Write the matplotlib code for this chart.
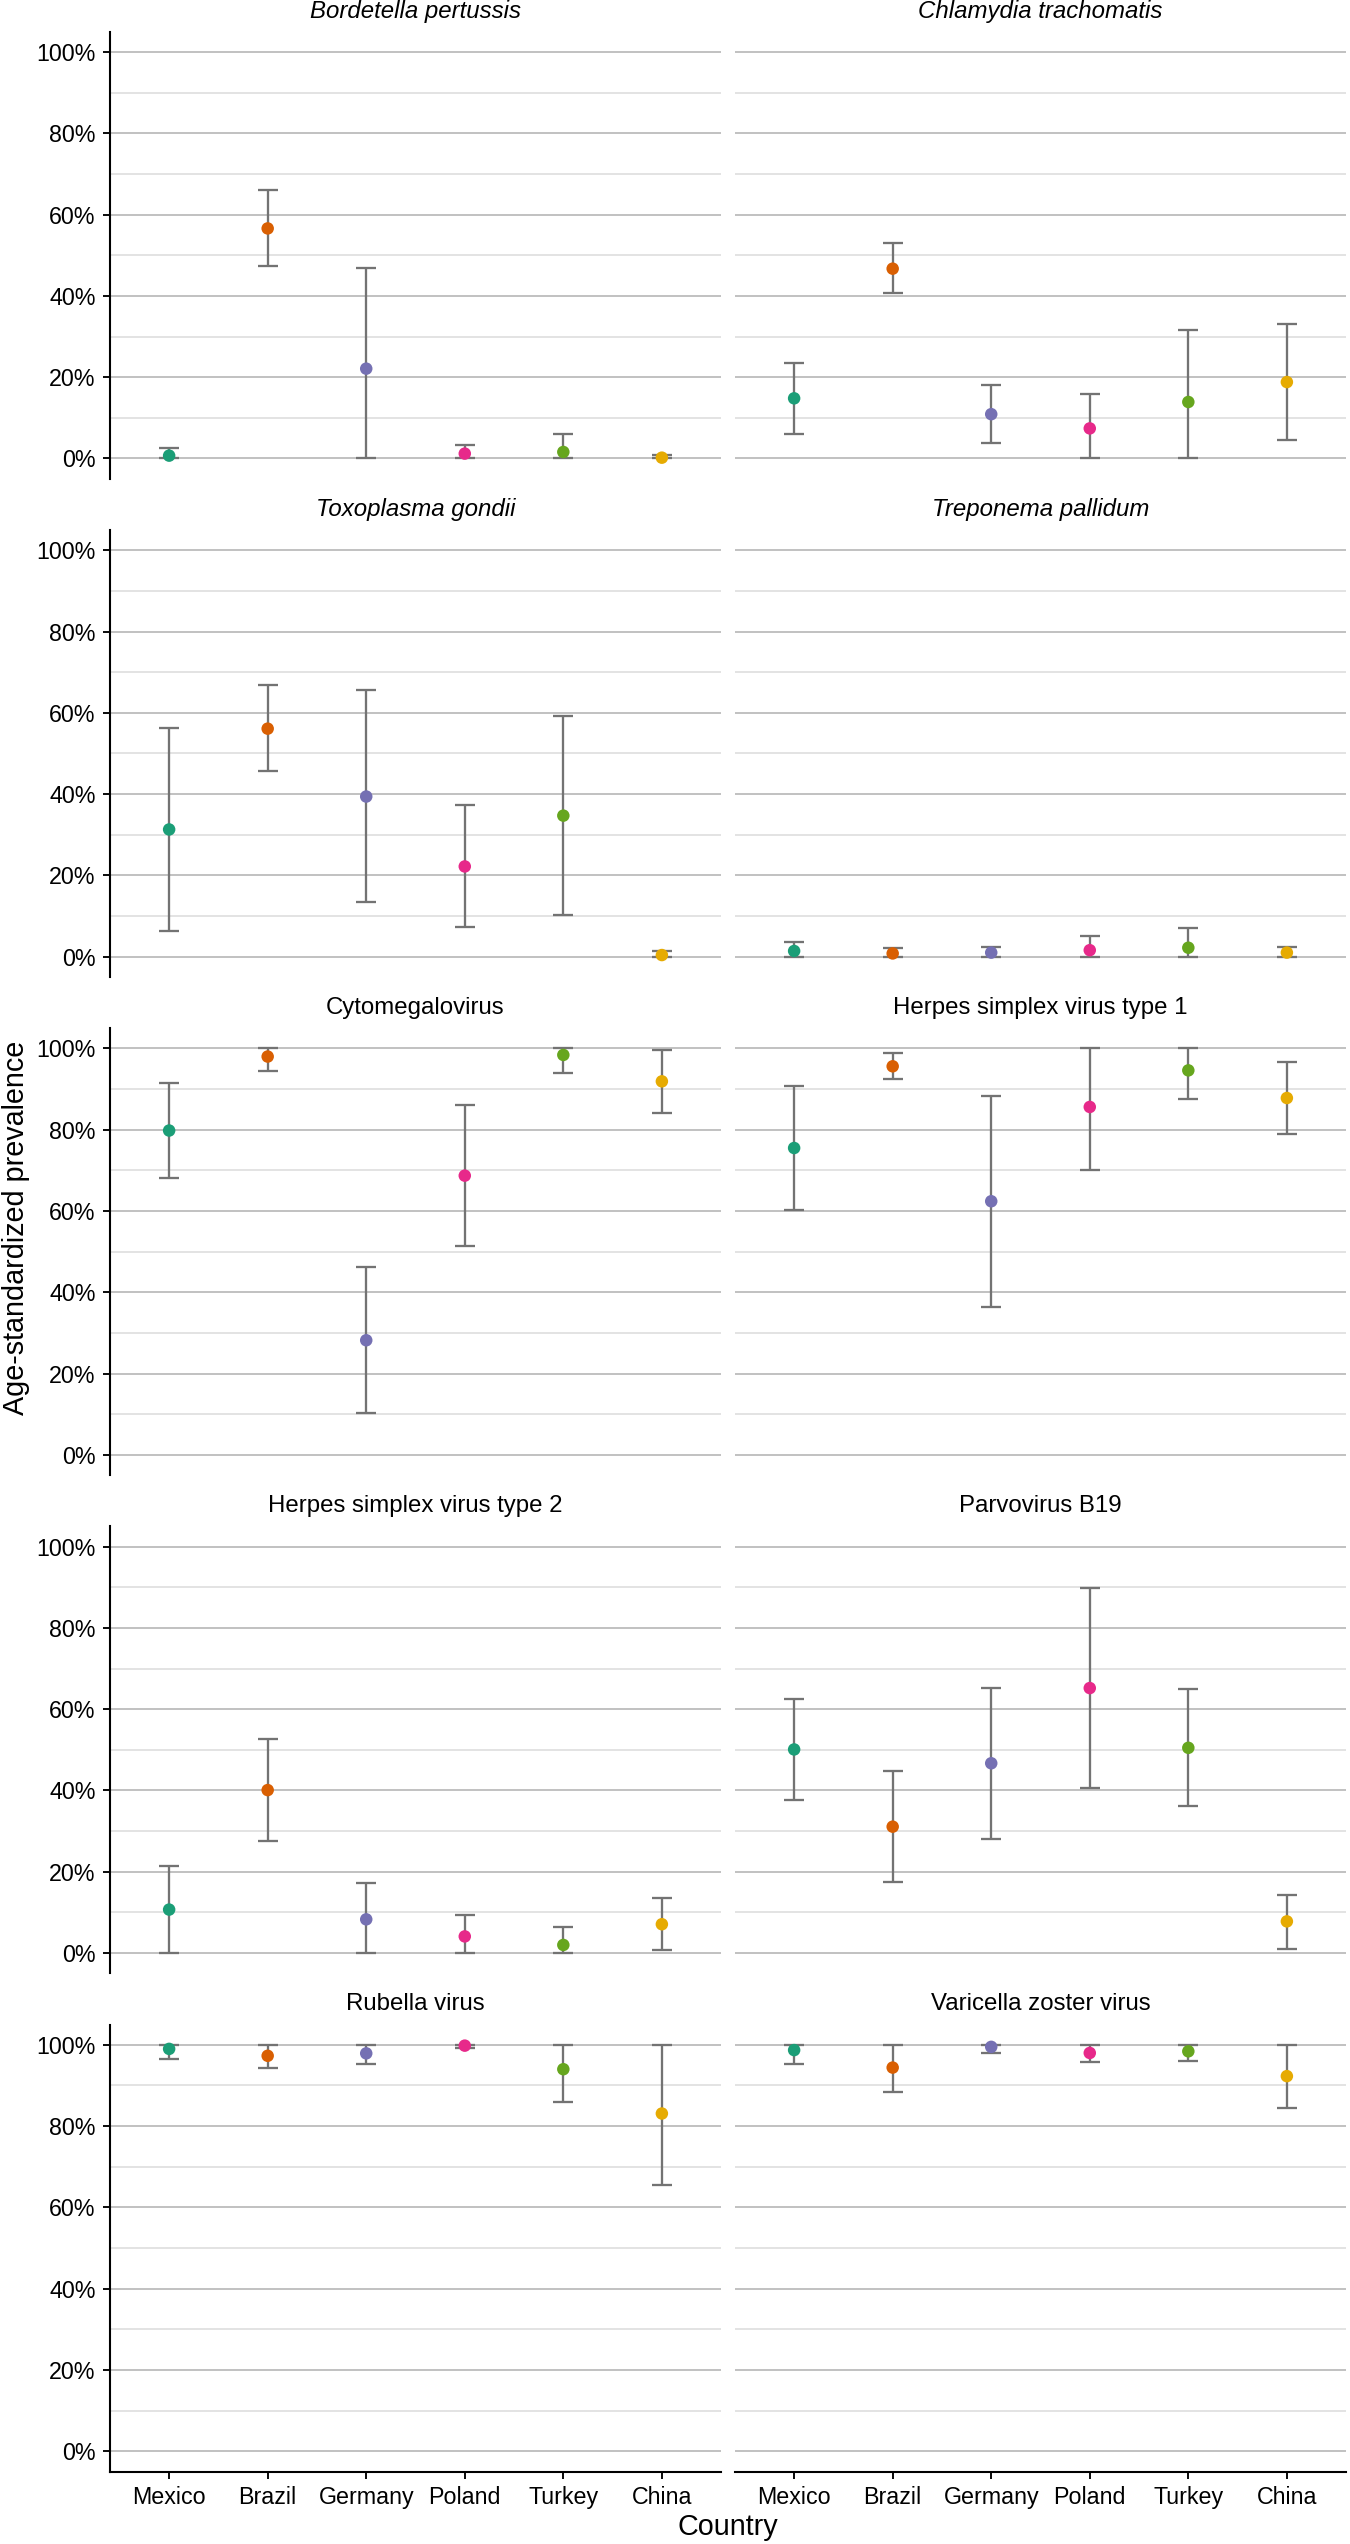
import matplotlib
matplotlib.use("Agg")
import matplotlib.pyplot as plt

plt.rcParams['font.family'] = ['Liberation Sans', 'DejaVu Sans']

countries = ["Mexico", "Brazil", "Germany", "Poland", "Turkey", "China"]
country_colors = ["#1B9E77", "#D95F02", "#7570B3", "#E7298A", "#66A61E", "#E6AB02"]

pathogens = ["Bordetella pertussis", "Chlamydia trachomatis",
             "Toxoplasma gondii", "Treponema pallidum",
             "Cytomegalovirus", "Herpes simplex virus type 1",
             "Herpes simplex virus type 2", "Parvovirus B19",
             "Rubella virus", "Varicella zoster virus"]
italic_title = [True, True, True, True, False, False, False, False, False, False]

# prevalence estimates (fraction), one row per pathogen, columns follow `countries`
estimate = [
    [0.007, 0.566, 0.221, 0.012, 0.016, 0.002],
    [0.148, 0.467, 0.109, 0.074, 0.139, 0.188],
    [0.313, 0.561, 0.394, 0.222, 0.347, 0.004],
    [0.014, 0.008, 0.010, 0.016, 0.022, 0.010],
    [0.798, 0.980, 0.282, 0.687, 0.984, 0.919],
    [0.755, 0.956, 0.624, 0.856, 0.946, 0.878],
    [0.107, 0.401, 0.083, 0.041, 0.020, 0.071],
    [0.501, 0.311, 0.467, 0.652, 0.505, 0.078],
    [0.990, 0.973, 0.979, 0.998, 0.940, 0.831],
    [0.987, 0.944, 0.995, 0.980, 0.984, 0.923],
]
lower = [
    [0.000, 0.473, 0.000, 0.000, 0.000, 0.000],
    [0.061, 0.406, 0.038, 0.000, 0.000, 0.045],
    [0.064, 0.456, 0.134, 0.072, 0.102, 0.000],
    [0.000, 0.000, 0.000, 0.000, 0.000, 0.000],
    [0.681, 0.945, 0.102, 0.513, 0.939, 0.842],
    [0.602, 0.924, 0.364, 0.702, 0.876, 0.789],
    [0.000, 0.275, 0.000, 0.000, 0.000, 0.007],
    [0.376, 0.175, 0.281, 0.407, 0.361, 0.011],
    [0.966, 0.943, 0.952, 0.992, 0.860, 0.656],
    [0.953, 0.885, 0.980, 0.957, 0.961, 0.845],
]
upper = [
    [0.025, 0.660, 0.468, 0.032, 0.061, 0.008],
    [0.234, 0.530, 0.180, 0.159, 0.316, 0.331],
    [0.562, 0.668, 0.655, 0.373, 0.591, 0.014],
    [0.037, 0.022, 0.024, 0.050, 0.070, 0.023],
    [0.915, 1.000, 0.462, 0.860, 1.000, 0.996],
    [0.907, 0.988, 0.884, 1.000, 1.000, 0.966],
    [0.215, 0.527, 0.173, 0.093, 0.064, 0.136],
    [0.625, 0.447, 0.653, 0.897, 0.649, 0.143],
    [1.000, 1.000, 1.000, 1.000, 1.000, 1.000],
    [1.000, 1.000, 1.000, 1.000, 1.000, 1.000],
]

major_ticks = [0.0, 0.2, 0.4, 0.6, 0.8, 1.0]
minor_ticks = [0.1, 0.3, 0.5, 0.7, 0.9]
major_labels = ["0%", "20%", "40%", "60%", "80%", "100%"]

W, H, DPI = 1350, 2544, 150
fig = plt.figure(figsize=(W / DPI, H / DPI), dpi=DPI)

col_x = [(110, 721), (735, 1346)]
row_top0, row_pitch, panel_h = 31.7, 498.2, 447.1

TICK_FS = 11.2
STRIP_FS = 11.5
TITLE_FS = 13.8
ERR_COL = "#737373"

for i, name in enumerate(pathogens):
    r, c = divmod(i, 2)
    x0, x1 = col_x[c]
    y0 = row_top0 + r * row_pitch
    y1 = y0 + panel_h
    ax = fig.add_axes([x0 / W, 1 - y1 / H, (x1 - x0) / W, (y1 - y0) / H])
    xs = list(range(len(countries)))

    ax.vlines(xs, lower[i], upper[i], color=ERR_COL, lw=1.1, zorder=3)
    for x, lo_v, hi_v in zip(xs, lower[i], upper[i]):
        ax.hlines([lo_v, hi_v], x - 0.1, x + 0.1, color=ERR_COL, lw=1.1, zorder=3)
    ax.scatter(xs, estimate[i], s=6.0 ** 2, c=country_colors, zorder=4, linewidths=0)

    ax.set_xlim(-0.6, 5.6)
    ax.set_ylim(-0.05, 1.05)
    ax.set_yticks(major_ticks)
    ax.set_yticks(minor_ticks, minor=True)
    ax.set_yticklabels(major_labels)
    ax.set_xticks(xs)
    ax.set_xticklabels(countries)
    ax.set_axisbelow(True)
    ax.grid(which="major", axis="y", color="#BFBFBF", lw=0.9)
    ax.grid(which="minor", axis="y", color="#E2E2E2", lw=0.9)
    ax.grid(which="major", axis="x", visible=False)

    for s in ["top", "right"]:
        ax.spines[s].set_visible(False)
    ax.spines["left"].set_linewidth(1.0)
    ax.spines["bottom"].set_linewidth(1.0)
    ax.tick_params(which="minor", length=0)
    ax.tick_params(axis="both", which="major", length=3.4, width=0.9,
                   labelsize=TICK_FS, pad=3.5, colors="black")
    if c == 1:
        ax.spines["left"].set_visible(False)
        ax.tick_params(axis="y", which="both", left=False, labelleft=False)
    if r < 4:
        ax.spines["bottom"].set_visible(False)
        ax.tick_params(axis="x", which="both", bottom=False, labelbottom=False)

    fig.text((x0 + x1) / 2 / W, 1 - (y0 - 20) / H, name,
             ha="center", va="center", fontsize=STRIP_FS,
             style="italic" if italic_title[i] else "normal")

fig.text(728 / W, 1 - 2527 / H, "Country", ha="center", va="center", fontsize=TITLE_FS)
fig.text(16 / W, 1 - 1228 / H, "Age-standardized prevalence", ha="center", va="center",
         rotation=90, fontsize=TITLE_FS)

fig.savefig("out.png", dpi=DPI)
